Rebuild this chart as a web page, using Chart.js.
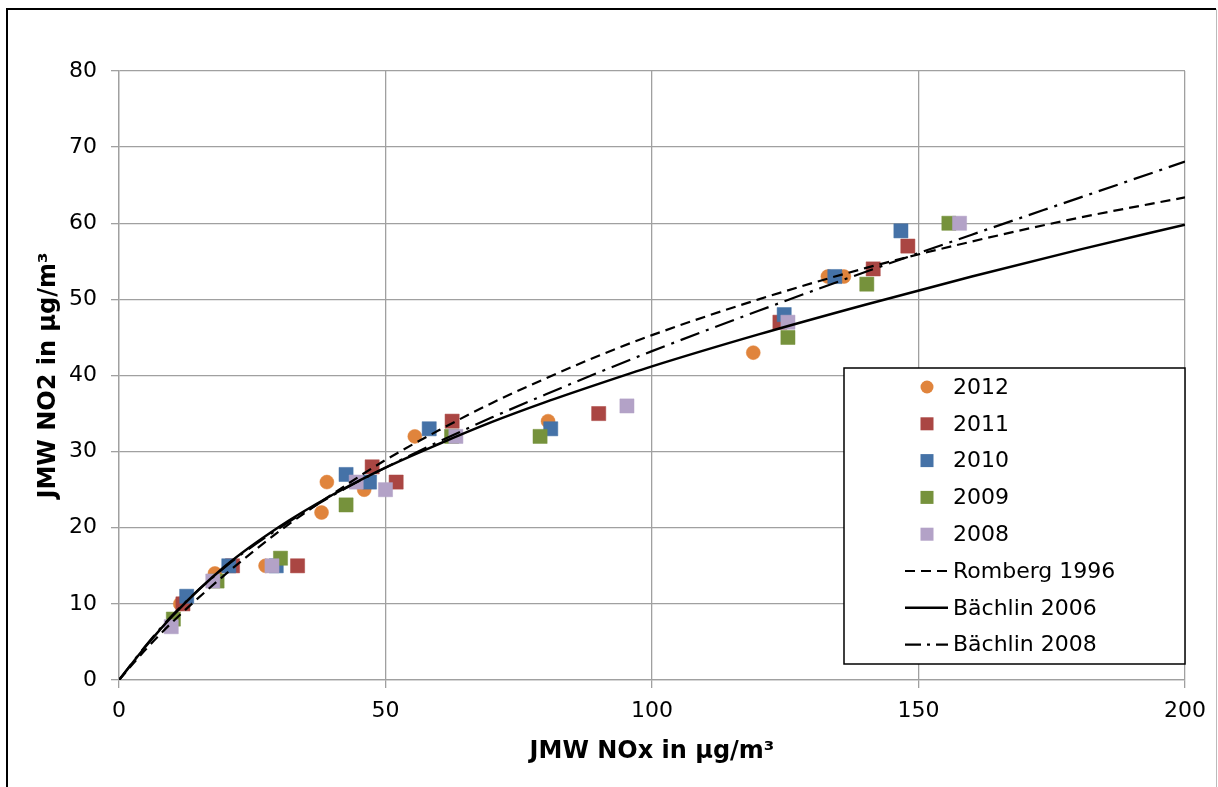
<!DOCTYPE html>
<html>
<head>
<meta charset="utf-8">
<script src="https://cdn.jsdelivr.net/npm/chart.js@4.4.0/dist/chart.umd.min.js"></script>
<style>
  html, body { margin: 0; padding: 0; background: #fff; }
  #wrap { position: relative; width: 1218px; height: 787px; }
</style>
</head>
<body>
<div id="wrap"><canvas id="no2Chart" width="1218" height="787"></canvas></div>
<script>
// Annual means per monitoring year: NOx on x, NO2 on y (µg/m³)
const nox2012 = [11.5, 18, 27.5, 38, 39, 46, 55.5, 80.5, 119, 133, 136];
const no2_2012 = [10, 14, 15, 22, 26, 25, 32, 34, 43, 53, 53];

const nox2011 = [12, 21.3, 33.5, 47.5, 52, 62.5, 90, 124, 141.5, 148];
const no2_2011 = [10, 15, 15, 28, 26, 34, 35, 47, 54, 57];

const nox2010 = [12.7, 20.6, 29.5, 42.6, 47, 58.2, 81, 124.8, 134.3, 146.7];
const no2_2010 = [11, 15, 15, 27, 26, 33, 33, 48, 53, 59];

const nox2009 = [10.2, 18.4, 30.3, 42.6, 62.4, 79, 125.5, 140.3, 155.7];
const no2_2009 = [8, 13, 16, 23, 32, 32, 45, 52, 60];

const nox2008 = [9.8, 17.6, 28.7, 44.5, 50, 63.2, 95.3, 125.5, 157.7];
const no2_2008 = [7, 13, 15, 26, 25, 32, 36, 47, 60];

// Conversion curves, sampled along NOx
const curveNox = [0, 5, 10, 20, 30, 40, 50, 60, 70, 80, 90, 100, 120, 140, 160, 180, 200];
const romberg1996 = [0, 4.0, 7.6, 13.9, 19.5, 24.4, 28.9, 32.8, 36.4, 39.6, 42.6, 45.3, 50.0, 54.1, 57.6, 60.7, 63.4];
const baechlin2006 = [0, 4.4, 8.4, 15.0, 20.1, 24.3, 27.9, 31.0, 33.9, 36.5, 38.9, 41.2, 45.4, 49.3, 53.0, 56.5, 59.8];
const baechlin2008 = [0, 4.5, 8.5, 14.9, 19.9, 24.2, 27.9, 31.3, 34.5, 37.5, 40.4, 43.2, 48.5, 53.6, 58.5, 63.3, 68.1];

const xTicks = [0, 50, 100, 150, 200];
const yTicks = [0, 10, 20, 30, 40, 50, 60, 70, 80];

const FONT = "'DejaVu Sans', Verdana, sans-serif";

function toPoints(xs, ys) {
  return xs.map((x, i) => ({x: x, y: ys[i]}));
}

function yearSet(label, xs, ys, color, style, order) {
  return {
    label: label,
    data: toPoints(xs, ys),
    pointStyle: style,
    pointRadius: style == 'circle' ? 7 : 10,
    pointBackgroundColor: color,
    pointBorderColor: color,
    pointBorderWidth: 0.5,
    showLine: false,
    order: order
  };
}

function curveSet(label, ys, dash, width, order) {
  return {
    type: 'line',
    label: label,
    data: toPoints(curveNox, ys),
    borderColor: '#000',
    borderWidth: width,
    borderDash: dash,
    pointRadius: 0,
    fill: false,
    cubicInterpolationMode: 'monotone',
    order: order
  };
}

// White page with the black frame round the figure
const framePlugin = {
  id: 'frame',
  beforeDraw(chart) {
    const ctx = chart.ctx;
    ctx.save();
    ctx.fillStyle = '#fff';
    ctx.fillRect(0, 0, chart.width, chart.height);
    ctx.strokeStyle = '#000';
    ctx.lineWidth = 2;
    ctx.beginPath();
    ctx.moveTo(7, chart.height);
    ctx.lineTo(7, 9);
    ctx.lineTo(1216, 9);
    ctx.stroke();
    ctx.strokeStyle = '#bbb';
    ctx.lineWidth = 1;
    ctx.beginPath();
    ctx.moveTo(1216.5, 9);
    ctx.lineTo(1216.5, chart.height);
    ctx.stroke();
    ctx.restore();
  }
};

// Boxed legend inside the plot area, lower right
const boxLegend = {
  id: 'boxLegend',
  afterDraw(chart) {
    const ctx = chart.ctx;
    const box = {left: 844, top: 368, right: 1185, bottom: 664};
    const rowTop = 387, rowStep = 36.8;
    ctx.save();
    ctx.fillStyle = '#fff';
    ctx.fillRect(box.left, box.top, box.right - box.left, box.bottom - box.top);
    ctx.strokeStyle = '#000';
    ctx.lineWidth = 1.5;
    ctx.strokeRect(box.left, box.top, box.right - box.left, box.bottom - box.top);

    ctx.font = '22px ' + FONT;
    ctx.textBaseline = 'middle';
    chart.data.datasets.forEach((ds, i) => {
      const y = rowTop + i * rowStep;
      if (ds.type == 'line') {
        ctx.strokeStyle = '#000';
        ctx.lineWidth = ds.borderWidth;
        ctx.setLineDash(ds.label == 'Bächlin 2008' ? [16, 6, 3, 6] : ds.borderDash);
        ctx.beginPath();
        ctx.moveTo(905, y);
        ctx.lineTo(948, y);
        ctx.stroke();
        ctx.setLineDash([]);
      } else {
        ctx.fillStyle = ds.pointBackgroundColor;
        if (ds.pointStyle == 'circle') {
          ctx.beginPath();
          ctx.arc(927, y, 6.5, 0, Math.PI * 2);
          ctx.fill();
        } else {
          ctx.fillRect(920.5, y - 6.5, 13, 13);
        }
      }
      ctx.fillStyle = '#000';
      ctx.fillText(ds.label, 953, y + 1);
    });
    ctx.restore();
  }
};

const chart = new Chart(document.getElementById('no2Chart'), {
  type: 'scatter',
  data: {
    datasets: [
      yearSet('2012', nox2012, no2_2012, '#E0843C', 'circle', 7),
      yearSet('2011', nox2011, no2_2011, '#AA4643', 'rect', 6),
      yearSet('2010', nox2010, no2_2010, '#4572A7', 'rect', 5),
      yearSet('2009', nox2009, no2_2009, '#76923C', 'rect', 4),
      yearSet('2008', nox2008, no2_2008, '#B3A2C7', 'rect', 3),
      curveSet('Romberg 1996', romberg1996, [10, 6], 2.2, 2),
      curveSet('Bächlin 2006', baechlin2006, [], 2.5, 1),
      curveSet('Bächlin 2008', baechlin2008, [20, 7, 3, 7], 2.2, 0)
    ]
  },
  options: {
    responsive: false,
    animation: false,
    layout: {padding: {left: 0, top: 71, right: 33, bottom: 0}},
    plugins: {
      legend: {display: false},
      tooltip: {enabled: false}
    },
    scales: {
      x: {
        type: 'linear',
        min: 0,
        max: 200,
        afterBuildTicks: s => { s.ticks = xTicks.map(v => ({value: v})); },
        afterFit: s => { s.height = 107; },
        grid: {color: '#a0a0a0', lineWidth: 1.3, tickLength: 8},
        border: {color: '#a0a0a0', width: 1.3},
        ticks: {color: '#000', font: {family: FONT, size: 22}, padding: 10, maxRotation: 0},
        title: {
          display: true,
          text: 'JMW NOx in µg/m³',
          color: '#000',
          font: {family: FONT, size: 24, weight: 'bold'},
          padding: {top: 0, bottom: 21}
        }
      },
      y: {
        type: 'linear',
        min: 0,
        max: 80,
        afterBuildTicks: s => { s.ticks = yTicks.map(v => ({value: v})); },
        afterFit: s => { s.width = 119; },
        grid: {color: '#a0a0a0', lineWidth: 1.3, tickLength: 8},
        border: {color: '#a0a0a0', width: 1.3},
        ticks: {color: '#000', font: {family: FONT, size: 22}, padding: 14},
        title: {
          display: true,
          text: 'JMW NO2 in µg/m³',
          color: '#000',
          font: {family: FONT, size: 24, weight: 'bold'},
          padding: {top: 34, bottom: 0}
        }
      }
    }
  },
  plugins: [framePlugin, boxLegend]
});
</script>
</body>
</html>
